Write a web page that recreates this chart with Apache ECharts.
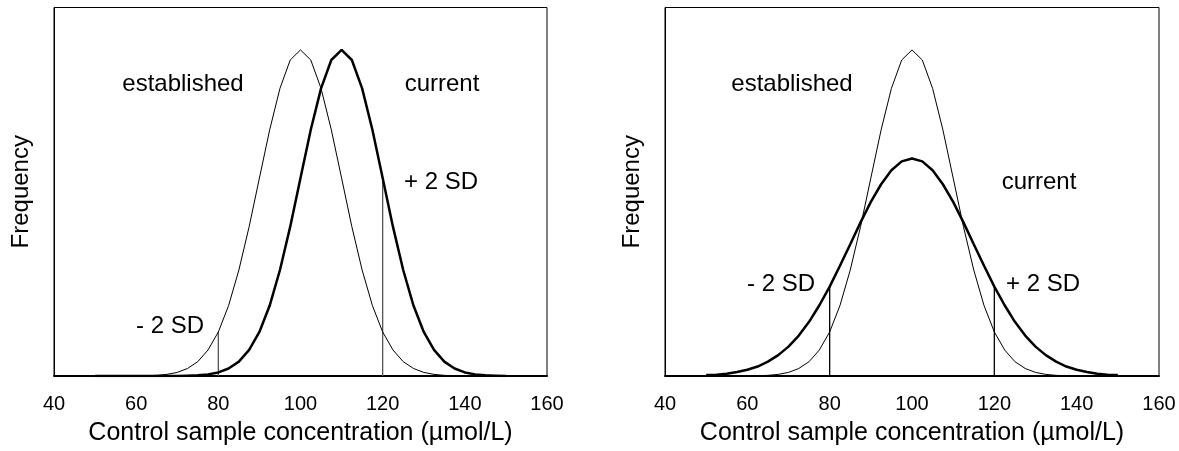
<!DOCTYPE html>
<html>
<head>
<meta charset="utf-8">
<script src="https://cdn.jsdelivr.net/npm/echarts@6/dist/echarts.min.js"></script>
<style>
  html, body { margin: 0; padding: 0; background: #fff; }
  #chart { width: 1179px; height: 451px; }
</style>
</head>
<body>
<div id="chart"></div>
<script>
// concentration values (x) the curves are sampled at
var concentration = [50, 52.5, 55, 57.5, 60, 62.5, 65, 67.5, 70, 72.5, 75, 77.5, 80, 82.5, 85, 87.5, 90, 92.5, 95, 97.5,
    100, 102.5, 105, 107.5, 110, 112.5, 115, 117.5, 120, 122.5, 125, 127.5, 130, 132.5, 135, 137.5, 140, 142.5, 145, 147.5, 150];

// established distribution (same in both panels)
var established = [0, 0, 0, 0, 0, 0.1, 0.2, 0.5, 1.1, 2.3, 4.4, 8.0, 13.5, 21.6, 32.5, 45.8, 60.7, 75.5, 88.2, 96.9,
    100, 96.9, 88.2, 75.5, 60.7, 45.8, 32.5, 21.6, 13.5, 8.0, 4.4, 2.3, 1.1, 0.5, 0.2, 0.1, 0, 0, 0, 0, 0];

// current distribution, left panel (shifted up)
var currentShift = [0, 0, 0, 0, 0, 0, 0, 0, 0, 0.1, 0.2, 0.5, 1.1, 2.3, 4.4, 8.0, 13.5, 21.6, 32.5, 45.8,
    60.7, 75.5, 88.2, 96.9, 100, 96.9, 88.2, 75.5, 60.7, 45.8, 32.5, 21.6, 13.5, 8.0, 4.4, 2.3, 1.1, 0.5, 0.2, 0.1, 0];

// current distribution, right panel (wider)
var currentWide = [0.3, 0.4, 0.7, 1.2, 1.9, 2.9, 4.4, 6.4, 9.0, 12.4, 16.6, 21.7, 27.4, 33.8, 40.4, 47.1, 53.4, 58.8, 63.1, 65.8,
    66.7, 65.8, 63.1, 58.8, 53.4, 47.1, 40.4, 33.8, 27.4, 21.7, 16.6, 12.4, 9.0, 6.4, 4.4, 2.9, 1.9, 1.2, 0.7, 0.4, 0.3];

// +/- 2 SD limits of the established distribution
var sdLimits = [80, 120];

var font = 'Liberation Sans, Arial, sans-serif';

function pairs(ys) {
    return concentration.map(function (x, i) {
        return [x, ys[i]];
    });
}

// vertical limit line goes up to the higher of the two curves
function limitLine(x, a, b) {
    var i = concentration.indexOf(x);
    return [[x, 0], [x, Math.max(a[i], b[i])]];
}

var chart = echarts.init(document.getElementById('chart'));

function xAxis(idx) {
    return {
        type: 'value',
        gridIndex: idx,
        min: 40,
        max: 160,
        interval: 20,
        name: 'Control sample concentration (µmol/L)',
        nameLocation: 'middle',
        nameGap: 45,
        nameTextStyle: { color: '#000', fontSize: 25, fontFamily: font },
        axisLine: { lineStyle: { color: '#000', width: 2 } },
        axisTick: { show: false },
        axisLabel: { color: '#000', fontSize: 20, fontFamily: font, margin: 18 },
        splitLine: { show: false }
    };
}

function yAxis(idx) {
    return {
        type: 'value',
        gridIndex: idx,
        min: 0,
        max: 113,
        name: 'Frequency',
        nameLocation: 'middle',
        nameGap: 21,
        nameTextStyle: { color: '#000', fontSize: 24, fontFamily: font },
        axisLine: { show: true, lineStyle: { color: '#000', width: 1 } },
        axisTick: { show: false },
        axisLabel: { show: false },
        splitLine: { show: false }
    };
}

function curve(idx, ys, w) {
    return {
        type: 'line',
        xAxisIndex: idx,
        yAxisIndex: idx,
        data: pairs(ys),
        symbol: 'none',
        lineStyle: { color: '#000', width: w },
        silent: true
    };
}

function limit(idx, x, a, b, color) {
    return {
        type: 'line',
        xAxisIndex: idx,
        yAxisIndex: idx,
        data: limitLine(x, a, b),
        symbol: 'none',
        lineStyle: { color: color, width: 1.3 },
        silent: true
    };
}

function label(text, x, y) {
    return {
        type: 'text',
        x: x,
        y: y,
        style: {
            text: text,
            fill: '#000',
            font: '24px ' + font,
            textAlign: 'center',
            textVerticalAlign: 'middle'
        }
    };
}

var option = {
    backgroundColor: '#fff',
    animation: false,
    grid: [
        { left: 54, top: 7.5, width: 493, height: 369.5, show: true, borderColor: '#000', borderWidth: 1 },
        { left: 665, top: 7.5, width: 494, height: 369.5, show: true, borderColor: '#000', borderWidth: 1 }
    ],
    xAxis: [xAxis(0), xAxis(1)],
    yAxis: [yAxis(0), yAxis(1)],
    series: [
        limit(0, sdLimits[0], established, currentShift, '#555'),
        limit(0, sdLimits[1], established, currentShift, '#555'),
        curve(0, established, 1),
        curve(0, currentShift, 2.5),
        limit(1, sdLimits[0], established, currentWide, '#000'),
        limit(1, sdLimits[1], established, currentWide, '#000'),
        curve(1, established, 1),
        curve(1, currentWide, 2.5)
    ],
    graphic: [
        label('established', 183, 84),
        label('current', 442, 84),
        label('+ 2 SD', 441, 182),
        label('- 2 SD', 170, 326),
        label('established', 792, 84),
        label('current', 1039, 182),
        label('- 2 SD', 781, 284),
        label('+ 2 SD', 1043, 284)
    ]
};

chart.setOption(option);
</script>
</body>
</html>
